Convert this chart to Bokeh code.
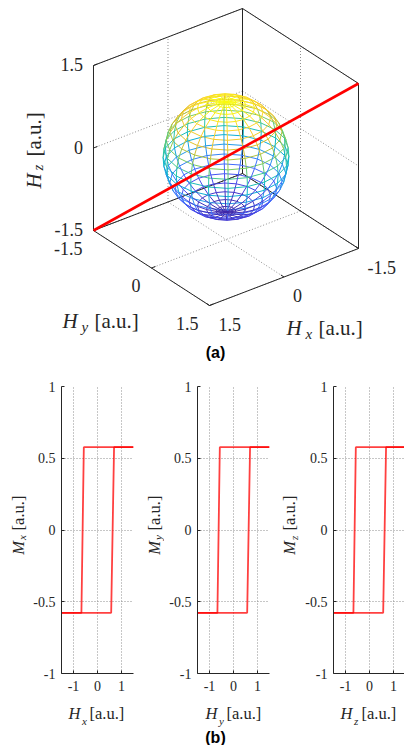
import numpy as np
from bokeh.plotting import figure
from bokeh.layouts import column, row
from bokeh.models import Range1d, FixedTicker, ColumnDataSource
from bokeh.embed import file_html
from bokeh.resources import INLINE
from bokeh.core.properties import value

# ---------------- data ----------------
# (a) 3-D view
axis_min, axis_max = -1.5, 1.5
ticks_3d = [-1.5, 0.0, 1.5]
tick_labels_3d = ["-1.5", "0", "1.5"]
sphere_radius = 1.0
sphere_n = 20                          # sphere(20) mesh
field_from = [1.5, -1.5, -1.5]         # applied field line (Hx, Hy, Hz)
field_to = [-1.5, 1.5, 1.5]

# (b) hysteresis loops (same for x, y, z)
H_down = [1.5, -0.57, -0.67, -1.5]
M_down = [0.577, 0.577, -0.577, -0.577]
H_up = [-1.5, 0.57, 0.69, 1.5]
M_up = [-0.577, -0.577, 0.577, 0.577]
panel_subs = ["x", "y", "z"]
x_ticks_2d = [-1, 0, 1]
x_tick_labels_2d = ["-1", "0", "1"]
y_ticks_2d = [-1, -0.5, 0, 0.5, 1]
y_tick_labels_2d = ["-1", "-0.5", "0", "0.5", "1"]

# ---------------- style ----------------
SERIF = "Liberation Serif"
SANS = "Liberation Sans"
INK = "#262626"
GRID = "#8f8f8f"
PARULA = [(0.2422, 0.1504, 0.6603), (0.2803, 0.2782, 0.9221), (0.2440, 0.4358, 0.9988),
          (0.1540, 0.5902, 0.9218), (0.0297, 0.7082, 0.8163), (0.1938, 0.7758, 0.6251),
          (0.5044, 0.7993, 0.3480), (0.8634, 0.7406, 0.1596), (0.9892, 0.8136, 0.1885),
          (0.9763, 0.9831, 0.0538)]


def parula(t):
    t = min(max(t, 0.0), 1.0) * (len(PARULA) - 1)
    i = min(int(t), len(PARULA) - 2)
    f = t - i
    c = [PARULA[i][k] * (1 - f) + PARULA[i + 1][k] * f for k in range(3)]
    return "#%02x%02x%02x" % tuple(int(round(255 * v)) for v in c)


# view (orthographic projection to page pixels)
ORIGIN = np.array([225.5, 156.5])
AX = np.array([[-49.67, 38.67, 0.0],
               [19.0, 25.0, -55.0]])


def proj(x, y, z):
    P = np.vstack([np.ravel(x), np.ravel(y), np.ravel(z)]).astype(float)
    uv = AX @ P
    return uv[0] + ORIGIN[0], uv[1] + ORIGIN[1]


def pixel_fig(x0, x1, y0, y1):
    f = figure(width=x1 - x0, height=y1 - y0, x_range=Range1d(x0, x1), y_range=Range1d(y1, y0),
               output_backend="svg", toolbar_location=None, min_border=0,
               x_axis_location=None, y_axis_location=None)
    f.grid.visible = False
    f.outline_line_color = None
    return f


def txt(f, x, y, s, size, italic=False, angle=0.0, align="left", font=SERIF, bold=False,
        baseline="alphabetic", color=INK):
    f.text(x=[x], y=[y], text=[s], text_font=value(font), text_font_size=size,
           text_font_style="bold" if bold else ("italic" if italic else "normal"),
           text_align=align, text_baseline=baseline, text_color=color, angle=angle)


# ---------------- (a) 3-D figure ----------------
top = pixel_fig(0, 404, 0, 366)
lo, hi = axis_min, axis_max

# dotted grid on the three back planes
gxs, gys = [], []
for t in ticks_3d:
    segs = [((t, lo, lo), (t, lo, hi)), ((lo, lo, t), (hi, lo, t)),
            ((lo, t, lo), (lo, t, hi)), ((lo, lo, t), (lo, hi, t)),
            ((t, lo, lo), (t, hi, lo)), ((lo, t, lo), (hi, t, lo))]
    for a, b in segs:
        u, v = proj(*zip(a, b))
        gxs.append(list(u)); gys.append(list(v))
top.multi_line(gxs, gys, line_color=GRID, line_width=1, line_dash="1 2")

# box edges (all except those meeting the near top corner)
corners = [(a, b, c) for a in (lo, hi) for b in (lo, hi) for c in (lo, hi)]
near = (hi, hi, hi)
bxs, bys = [], []
for i, c1 in enumerate(corners):
    for c2 in corners[i + 1:]:
        if sum(p != q for p, q in zip(c1, c2)) == 1 and near not in (c1, c2):
            u, v = proj(*zip(c1, c2))
            bxs.append(list(u)); bys.append(list(v))
top.multi_line(bxs, bys, line_color=INK, line_width=1)

# small tick marks
L = 0.08
txs, tys = [], []
for t in ticks_3d:
    for a, b in [((hi, lo, t), (hi - L, lo, t)), ((hi, t, lo), (hi - L, t, lo)),
                 ((t, hi, lo), (t, hi - L, lo))]:
        u, v = proj(*zip(a, b))
        txs.append(list(u)); tys.append(list(v))
top.multi_line(txs, tys, line_color=INK, line_width=1)

# sphere mesh
theta = np.linspace(-np.pi, np.pi, sphere_n + 1)
phi = np.linspace(-np.pi / 2, np.pi / 2, sphere_n + 1)
TH, PH = np.meshgrid(theta, phi)
X = sphere_radius * np.cos(PH) * np.cos(TH)
Y = sphere_radius * np.cos(PH) * np.sin(TH)
Z = sphere_radius * np.sin(PH)
U, V = proj(X, Y, Z)
U = U.reshape(X.shape); V = V.reshape(X.shape)
sx, sy, sc = [], [], []
n = sphere_n
for i in range(1, n):            # parallels
    for j in range(n):
        sx.append([U[i, j], U[i, j + 1]]); sy.append([V[i, j], V[i, j + 1]])
        sc.append(parula((Z[i, j] / sphere_radius + 1) / 2))
for j in range(n):               # meridians
    for i in range(n):
        sx.append([U[i, j], U[i + 1, j]]); sy.append([V[i, j], V[i + 1, j]])
        zm = 0.5 * (Z[i, j] + Z[i + 1, j])
        sc.append(parula((zm / sphere_radius + 1) / 2))
top.multi_line(xs="xs", ys="ys", line_color="c", line_width=1.0,
               source=ColumnDataSource(dict(xs=sx, ys=sy, c=sc)))

# field line
fu, fv = proj(*zip(field_from, field_to))
top.line(list(fu), list(fv), line_color="#ff0000", line_width=2.6)

# tick labels
zu, zv = proj([hi] * 3, [lo] * 3, ticks_3d)
top.text(x=list(zu - 10.5), y=list(zv - 1), text=tick_labels_3d, text_font=value(SERIF),
         text_font_size="18px", text_align="right", text_baseline="middle", text_color=INK)
yu, yv = proj([hi] * 3, ticks_3d, [lo] * 3)
top.text(x=list(yu - 11), y=list(yv + 17.5), text=tick_labels_3d, text_font=value(SERIF),
         text_font_size="18px", text_align="right", text_baseline="middle", text_color=INK)
xu, xv = proj(ticks_3d, [hi] * 3, [lo] * 3)
top.text(x=list(xu + 9), y=list(xv + 18.5), text=tick_labels_3d, text_font=value(SERIF),
         text_font_size="18px", text_align="left", text_baseline="middle", text_color=INK)

# axis labels
txt(top, 33.5, 188, "H", "21px", True, np.pi / 2)
txt(top, 37.5, 170, "z", "15px", True, np.pi / 2)
txt(top, 33.5, 156, "[a.u.]", "21px", False, np.pi / 2)
txt(top, 62, 320, "H", "21px", True)
txt(top, 81, 326, "y", "15px", True)
txt(top, 94, 320, "[a.u.]", "21px")
txt(top, 286, 327, "H", "21px", True)
txt(top, 305, 333, "x", "15px", True)
txt(top, 318, 327, "[a.u.]", "21px")
txt(top, 215, 352, "(a)", "16px", align="center", font=SANS, bold=True,
    baseline="middle", color="#000000")

# ---------------- (b) hysteresis panels ----------------
ROW_TOP, ROW_BOT = 366, 697


def panel(left, right, fw, x_end):
    p = figure(frame_width=fw, frame_height=287, x_range=Range1d(-1.5, x_end),
               y_range=Range1d(-1, 1), min_border_left=left, min_border_right=right,
               min_border_top=20, min_border_bottom=ROW_BOT - 673, output_backend="svg",
               toolbar_location=None)
    p.outline_line_color = None
    for ax, ticks, labels in ((p.xaxis, x_ticks_2d, x_tick_labels_2d),
                              (p.yaxis, y_ticks_2d, y_tick_labels_2d)):
        ax.ticker = FixedTicker(ticks=ticks)
        ax.major_label_overrides = dict(zip(ticks, labels))
        ax.axis_line_color = INK
        ax.major_tick_line_color = INK
        ax.major_tick_in = 3
        ax.major_tick_out = 0
        ax.minor_tick_line_color = None
        ax.major_label_text_font = SERIF
        ax.major_label_text_font_size = "14px"
        ax.major_label_text_color = INK
    p.xaxis.major_label_standoff = 7
    p.yaxis.major_label_standoff = 6
    p.xgrid.ticker = FixedTicker(ticks=x_ticks_2d)
    p.ygrid.ticker = FixedTicker(ticks=[t for t in y_ticks_2d if abs(t) < 1])
    p.grid.grid_line_color = GRID
    p.grid.grid_line_dash = "1 2"
    p.grid.grid_line_width = 1
    p.line(H_down, M_down, line_color="#ff0000", line_width=1.8, line_alpha=0.75)
    p.line(H_up, M_up, line_color="#ff0000", line_width=1.8, line_alpha=0.75)
    return p


def ystrip(x0, x1, base_x, sub):
    f = pixel_fig(x0, x1, ROW_TOP, ROW_BOT)
    txt(f, base_x, 560, "M", "16.5px", True, np.pi / 2)
    txt(f, base_x + 4, 543, sub, "11px", True, np.pi / 2)
    txt(f, base_x, 532, "[a.u.]", "16.5px", False, np.pi / 2)
    return f


y1 = ystrip(0, 28, 17.5, panel_subs[0])
p1 = panel(33, 7, 72, 1.5)
y2 = ystrip(140, 164, 153.5, panel_subs[1])
p2 = panel(33, 7, 72, 1.5)
y3 = ystrip(276, 300, 289, panel_subs[2])
p3 = panel(33, 0, 71, 1.5 - 1 / 24)

bottom = pixel_fig(0, 404, ROW_BOT, 745)
for x_h, sub in zip([68, 205, 340], panel_subs):
    txt(bottom, x_h, 713, "H", "16.5px", True)
    txt(bottom, x_h + 13.5, 720, sub, "11px", True)
    txt(bottom, x_h + 21, 713, "[a.u.]", "16.5px")
txt(bottom, 215, 737, "(b)", "16px", align="center", font=SANS, bold=True,
    baseline="middle", color="#000000")

layout = column(top, row(y1, p1, y2, p2, y3, p3), bottom)
open("out.html", "w").write(file_html(layout, INLINE))
